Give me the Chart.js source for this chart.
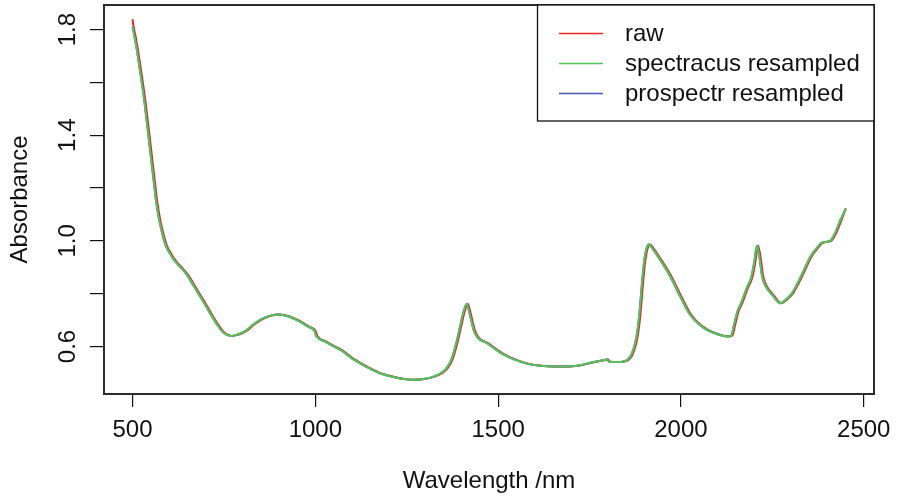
<!DOCTYPE html>
<html><head><meta charset="utf-8">
<script src="https://cdn.jsdelivr.net/npm/chart.js@4"></script>
<style>html,body{margin:0;padding:0;background:#fff}#wrap{width:898px;height:498px}</style>
</head><body><div id="wrap"><canvas id="c" width="898" height="498"></canvas></div>
<script>
const seriesNames = ['raw', 'spectracus resampled', 'prospectr resampled'];
const seriesColors = ['#E8261E', '#56C456', '#4659B0'];

const rawWavelength = [500,503,509,515,525,535,543,551,559,567,575,583,593,604,618,633,652,668,683,699,715,731,748,761,773,788,803,816,833,852,873,898,923,943,962,983,1001,1005,1028,1053,1071,1103,1144,1173,1208,1235,1272,1303,1326,1348,1363,1375,1388,1399,1409,1417,1424,1436,1446,1454,1472,1493,1518,1548,1582,1618,1654,1693,1719,1743,1764,1783,1801,1806,1828,1846,1858,1866,1873,1879,1885,1891,1897,1903,1909,1916,1923,1938,1955,1974,2001,2028,2053,2074,2103,2129,2141,2148,2158,2168,2184,2195,2203,2211,2218,2225,2234,2253,2274,2288,2307,2333,2357,2373,2389,2411,2423,2438,2451];
const rawAbsorbance = [1.839,1.81,1.77,1.722,1.63,1.533,1.44,1.344,1.25,1.155,1.085,1.035,0.985,0.955,0.925,0.902,0.871,0.835,0.80,0.765,0.726,0.69,0.657,0.644,0.640,0.644,0.652,0.663,0.683,0.701,0.714,0.721,0.716,0.706,0.693,0.675,0.658,0.641,0.620,0.600,0.588,0.555,0.522,0.502,0.487,0.479,0.474,0.478,0.486,0.500,0.52,0.55,0.61,0.676,0.735,0.762,0.73,0.663,0.635,0.625,0.613,0.592,0.569,0.55,0.535,0.527,0.524,0.524,0.527,0.534,0.541,0.546,0.551,0.542,0.541,0.543,0.551,0.565,0.59,0.62,0.67,0.75,0.85,0.93,0.972,0.986,0.975,0.945,0.909,0.865,0.789,0.72,0.683,0.663,0.646,0.638,0.642,0.68,0.735,0.765,0.825,0.86,0.915,0.981,0.935,0.865,0.83,0.795,0.764,0.775,0.802,0.87,0.94,0.97,0.993,1.0,1.025,1.075,1.123];

const resampledWavelength = [500,506,512,522,532,540,548,556,564,572,580,590,601,615,630,649,665,680,696,712,728,745,758,770,785,800,813,830,849,870,895,920,940,959,980,998,1002,1025,1050,1068,1100,1141,1170,1205,1232,1269,1300,1323,1345,1360,1372,1385,1396,1406,1414,1421,1433,1443,1451,1469,1490,1515,1545,1579,1615,1651,1690,1716,1740,1761,1780,1798,1803,1825,1843,1855,1863,1870,1876,1882,1888,1894,1900,1906,1913,1920,1935,1952,1971,1998,2025,2050,2071,2100,2126,2138,2145,2155,2165,2181,2192,2200,2208,2215,2222,2231,2250,2271,2285,2304,2330,2354,2370,2386,2408,2420,2435,2450];
const spectracusAbsorbance = [1.81,1.77,1.722,1.63,1.533,1.44,1.344,1.25,1.155,1.085,1.035,0.985,0.955,0.925,0.902,0.871,0.835,0.80,0.765,0.726,0.69,0.657,0.644,0.640,0.644,0.652,0.663,0.683,0.701,0.714,0.721,0.716,0.706,0.693,0.675,0.658,0.641,0.620,0.600,0.588,0.555,0.522,0.502,0.487,0.479,0.474,0.478,0.486,0.500,0.52,0.55,0.61,0.676,0.735,0.762,0.73,0.663,0.635,0.625,0.613,0.592,0.569,0.55,0.535,0.527,0.524,0.524,0.527,0.534,0.541,0.546,0.551,0.542,0.541,0.543,0.551,0.565,0.59,0.62,0.67,0.75,0.85,0.93,0.972,0.986,0.975,0.945,0.909,0.865,0.789,0.72,0.683,0.663,0.646,0.638,0.642,0.68,0.735,0.765,0.825,0.86,0.915,0.981,0.935,0.865,0.83,0.795,0.764,0.775,0.802,0.87,0.94,0.97,0.993,1.0,1.025,1.075,1.12];
const prospectrAbsorbance = [1.81,1.77,1.722,1.63,1.533,1.44,1.344,1.25,1.155,1.085,1.035,0.985,0.955,0.925,0.902,0.871,0.835,0.80,0.765,0.726,0.69,0.657,0.644,0.640,0.644,0.652,0.663,0.683,0.701,0.714,0.721,0.716,0.706,0.693,0.675,0.658,0.641,0.620,0.600,0.588,0.555,0.522,0.502,0.487,0.479,0.474,0.478,0.486,0.500,0.52,0.55,0.61,0.676,0.735,0.762,0.73,0.663,0.635,0.625,0.613,0.592,0.569,0.55,0.535,0.527,0.524,0.524,0.527,0.534,0.541,0.546,0.551,0.542,0.541,0.543,0.551,0.565,0.59,0.62,0.67,0.75,0.85,0.93,0.972,0.986,0.975,0.945,0.909,0.865,0.789,0.72,0.683,0.663,0.646,0.638,0.642,0.68,0.735,0.765,0.825,0.86,0.915,0.981,0.935,0.865,0.83,0.795,0.764,0.775,0.802,0.87,0.94,0.97,0.993,1.0,1.025,1.075,1.12];

const xTicks = [500, 1000, 1500, 2000, 2500];
const yTicks = [0.6, 0.8, 1.0, 1.2, 1.4, 1.6, 1.8];
const yLabelled = [0.6, 1.0, 1.4, 1.8];
const xTitle = 'Wavelength /nm';
const yTitle = 'Absorbance';

const FONT = 'Liberation Sans, Arial, Helvetica, sans-serif';
const pts = (xs, ys) => xs.map((x, i) => ({x: x, y: ys[i]}));

const boxPlugin = {
  id: 'rbox',
  afterDraw(chart) {
    const ctx = chart.ctx, a = chart.chartArea;
    ctx.save();
    ctx.strokeStyle = '#2b2b2b';
    ctx.lineWidth = 2;
    ctx.strokeRect(a.left, a.top, a.right - a.left, a.bottom - a.top);
    // legend (top right, R style)
    const lx = 537, ly = a.top, lw = a.right - lx, lh = 116;
    ctx.fillStyle = '#fff';
    ctx.fillRect(lx, ly, lw, lh);
    ctx.lineWidth = 1.3;
    ctx.strokeStyle = '#111';
    ctx.strokeRect(lx + 0.5, ly, lw - 0.5, lh);
    ctx.font = '24px ' + FONT;
    ctx.textBaseline = 'middle';
    ctx.textAlign = 'left';
    seriesNames.forEach((name, i) => {
      const y = ly + 28.5 + i * 30;
      ctx.strokeStyle = seriesColors[i];
      ctx.lineWidth = 1.6;
      ctx.beginPath(); ctx.moveTo(559, y); ctx.lineTo(603, y); ctx.stroke();
      ctx.fillStyle = '#111';
      ctx.fillText(name, 625, y + 1);
    });
    ctx.restore();
  }
};

new Chart(document.getElementById('c'), {
  type: 'line',
  data: {
    datasets: [
      {label: seriesNames[0], data: pts(rawWavelength, rawAbsorbance), borderColor: seriesColors[0], order: 3},
      {label: seriesNames[1], data: pts(resampledWavelength, spectracusAbsorbance), borderColor: seriesColors[1], order: 1},
      {label: seriesNames[2], data: pts(resampledWavelength, prospectrAbsorbance), borderColor: seriesColors[2], order: 2}
    ]
  },
  options: {
    responsive: false,
    animation: false,
    devicePixelRatio: 1,
    layout: {padding: {left: 0, right: 24, top: 5, bottom: 0}},
    elements: {
      point: {radius: 0, hoverRadius: 0},
      line: {borderWidth: 2, cubicInterpolationMode: 'monotone', fill: false}
    },
    plugins: {legend: {display: false}, tooltip: {enabled: false}},
    scales: {
      x: {
        type: 'linear', min: 422, max: 2528,
        afterBuildTicks: s => { s.ticks = xTicks.map(v => ({value: v})); },
        afterFit: s => { s.height = 104; s.paddingLeft = 0; s.paddingRight = 0; },
        border: {display: false},
        grid: {drawOnChartArea: false, drawTicks: true, tickLength: 13, color: '#111', lineWidth: 1.2},
        ticks: {font: {family: FONT, size: 24}, color: '#111', padding: 9, maxRotation: 0, autoSkip: false,
                callback: v => String(v)},
        title: {display: true, text: xTitle, font: {family: FONT, size: 24}, color: '#111', padding: {top: 0, bottom: 2}}
      },
      y: {
        type: 'linear', min: 0.42, max: 1.893,
        afterBuildTicks: s => { s.ticks = yTicks.map(v => ({value: v})); },
        afterFit: s => { s.width = 104; s.paddingTop = 0; s.paddingBottom = 0; },
        border: {display: false},
        grid: {drawOnChartArea: false, drawTicks: true, tickLength: 14, color: '#111', lineWidth: 1.2},
        ticks: {font: {family: FONT, size: 24}, color: '#111', padding: 5, minRotation: 90, maxRotation: 90,
                crossAlign: 'center', autoSkip: false,
                callback: v => yLabelled.includes(v) ? v.toFixed(1) : ''},
        title: {display: true, text: yTitle, font: {family: FONT, size: 24}, color: '#111', padding: {top: 6, bottom: 0}}
      }
    }
  },
  plugins: [boxPlugin]
});
</script></body></html>
